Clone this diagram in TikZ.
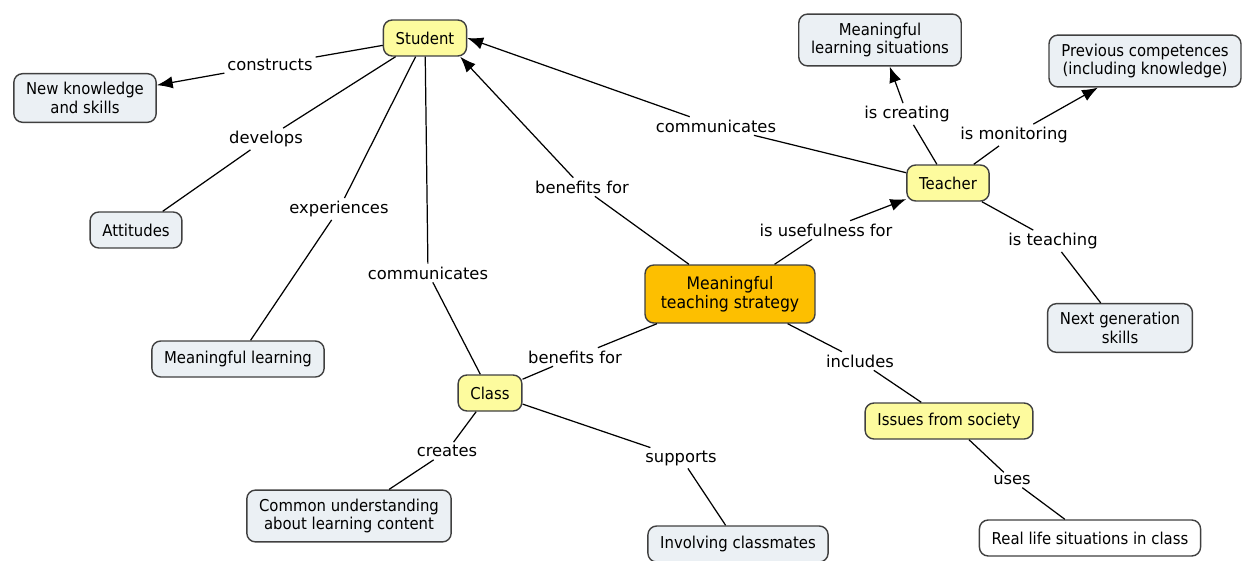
\documentclass[tikz,border=0pt]{standalone}
\usepackage{fontspec}
\setmainfont{DejaVu Sans}
\newfontfamily\boxfont[FakeStretch=0.91]{DejaVu Sans}
\usetikzlibrary{arrows.meta}
\definecolor{conceptblue}{HTML}{EBF0F4}
\definecolor{keyyellow}{HTML}{FDFB9E}
\definecolor{mainorange}{HTML}{FDBF00}
\tikzset{
  concept/.style={
    rectangle,
    rounded corners=5pt,
    draw=black!75, line width=0.8pt,
    fill=conceptblue,
    align=center,
    inner xsep=7pt, inner ysep=5pt,
    minimum height=0.72cm,
    font=\boxfont\fontsize{9.3}{10.5}\selectfont},
  keyconcept/.style={concept, fill=keyyellow},
  mainconcept/.style={concept, fill=mainorange,
    minimum width=3.4cm, minimum height=1.16cm,
    font=\boxfont\fontsize{9.8}{11}\selectfont},
  plainconcept/.style={concept, fill=white},
  linkword/.style={inner sep=1.5pt, font=\fontsize{9.3}{11}\selectfont},
  line/.style={draw, line width=0.7pt},
  arrowline/.style={line, -{Latex[length=9pt,width=7pt]}},
}

\begin{document}
\begin{tikzpicture}[x=0.02cm, y=-0.02cm]
  \useasboundingbox (0,0) rectangle (1244,561);
  % concepts
  \node[keyconcept] (Student) at (425,38) {Student};
  \node[keyconcept] (Teacher) at (948,183) {Teacher};
  \node[keyconcept] (Class) at (490,393) {Class};
  \node[keyconcept] (IssuesSociety) at (949,421) {Issues from society};
  \node[mainconcept] (Strategy) at (730,294) {Meaningful\\teaching strategy};
  \node[concept] (NewKnowledge) at (85,98) {New knowledge\\and skills};
  \node[concept] (Attitudes) at (136,230) {Attitudes};
  \node[concept] (MeaningfulLearning) at (238,359) {Meaningful learning};
  \node[concept] (CommonUnderstanding) at (349,516) {Common understanding\\about learning content};
  \node[concept] (Involving) at (738,544) {Involving classmates};
  \node[concept] (Situations) at (880,40) {Meaningful\\learning situations};
  \node[concept] (PrevCompetences) at (1145,61) {Previous competences\\(including knowledge)};
  \node[concept] (NextGeneration) at (1120,328) {Next generation\\skills};
  \node[plainconcept] (RealLife) at (1090,538) {Real life situations in class};

  % linking words
  \node[linkword] (Constructs) at (270,65) {constructs};
  \node[linkword] (Develops) at (266,139) {develops};
  \node[linkword] (Experiences) at (339,209) {experiences};
  \node[linkword] (CommClass) at (428,273) {communicates};
  \node[linkword] (BenefitsStudent) at (582,187) {benefits for};
  \node[linkword] (CommTeacher) at (716,126) {communicates};
  \node[linkword] (IsCreating) at (907,114) {is creating};
  \node[linkword] (IsMonitoring) at (1014,135) {is monitoring};
  \node[linkword] (IsUsefulness) at (826,230) {is usefulness for};
  \node[linkword] (IsTeaching) at (1053,241) {is teaching};
  \node[linkword] (BenefitsClass) at (575,357) {benefits for};
  \node[linkword] (Includes) at (860,361) {includes};
  \node[linkword] (Creates) at (447,451) {creates};
  \node[linkword] (Supports) at (681,458) {supports};
  \node[linkword] (Uses) at (1012,480) {uses};

  % connectors
  \path[line] (Student) -- (Constructs);
  \path[arrowline] (Constructs) -- (NewKnowledge);
  \path[line] (Student) -- (Develops) -- (Attitudes);
  \path[line] (Student) -- (Experiences) -- (MeaningfulLearning);
  \path[line] (Student) -- (CommClass) -- (Class);
  \path[line] (Strategy) -- (BenefitsStudent);
  \path[arrowline] (BenefitsStudent) -- (Student.-28);
  \path[line] (Teacher) -- (CommTeacher);
  \path[arrowline] (CommTeacher) -- (Student.east);
  \path[line] (Teacher) -- (IsCreating);
  \path[arrowline] (IsCreating) -- (Situations);
  \path[line] (Teacher) -- (IsMonitoring);
  \path[arrowline] (IsMonitoring) -- (PrevCompetences);
  \path[line] (Strategy) -- (IsUsefulness);
  \path[arrowline] (IsUsefulness) -- (Teacher);
  \path[line] (Teacher) -- (IsTeaching) -- (NextGeneration);
  \path[line] (Strategy) -- (BenefitsClass) -- (Class);
  \path[line] (Strategy) -- (Includes) -- (IssuesSociety);
  \path[line] (IssuesSociety) -- (Uses) -- (RealLife);
  \path[line] (Class) -- (Creates) -- (CommonUnderstanding);
  \path[line] (Class) -- (Supports) -- (Involving);
\end{tikzpicture}
\end{document}
